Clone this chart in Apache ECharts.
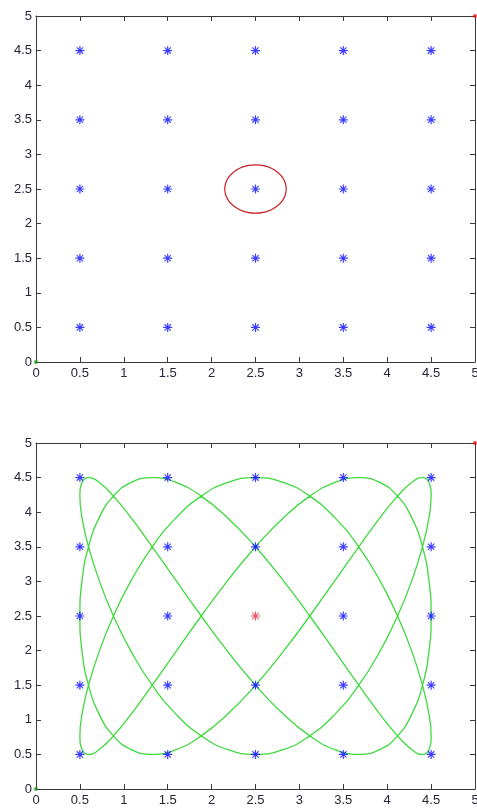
<!DOCTYPE html>
<html>
<head>
<meta charset="utf-8">
<script src="https://cdn.jsdelivr.net/npm/echarts@6/dist/echarts.min.js"></script>
<style>
  html, body { margin: 0; padding: 0; background: #fff; }
  #chart { width: 477px; height: 810px; }
</style>
</head>
<body>
<div id="chart"></div>
<script>
// Target grid (5 x 5 points)
const gridX = [0.5, 1.5, 2.5, 3.5, 4.5];
const gridY = [0.5, 1.5, 2.5, 3.5, 4.5];
// Centre target (highlighted in the lower panel)
const centre = [2.5, 2.5];
// Start / end corner markers
const startPt = [0, 0];
const endPt = [5, 5];

// Sensing range around the centre target
const ringX = [2.85, 2.838, 2.803, 2.747, 2.675, 2.591, 2.5, 2.409, 2.325, 2.253, 2.197, 2.162, 2.15,
               2.162, 2.197, 2.253, 2.325, 2.409, 2.5, 2.591, 2.675, 2.747, 2.803, 2.838, 2.85];
const ringY = [2.5, 2.591, 2.675, 2.747, 2.803, 2.838, 2.85, 2.838, 2.803, 2.747, 2.675, 2.591, 2.5,
               2.409, 2.325, 2.253, 2.197, 2.162, 2.15, 2.162, 2.197, 2.253, 2.325, 2.409, 2.5];

// Sweep trajectory
const pathX = [
  3.118, 3.408, 3.676, 3.914, 4.118, 4.282, 4.402, 4.475, 4.5, 4.475,
  4.402, 4.282, 4.118, 3.914, 3.676, 3.408, 3.118, 2.813, 2.5, 2.187,
  1.882, 1.592, 1.324, 1.086, 0.882, 0.718, 0.598, 0.525, 0.5, 0.525,
  0.598, 0.718, 0.882, 1.086, 1.324, 1.592, 1.882, 2.187, 2.5, 2.813,
  3.118, 3.408, 3.676, 3.914, 4.118, 4.282, 4.402, 4.475, 4.5, 4.475,
  4.402, 4.282, 4.118, 3.914, 3.676, 3.408, 3.118, 2.813, 2.5, 2.187,
  1.882, 1.592, 1.324, 1.086, 0.882, 0.718, 0.598, 0.525, 0.5, 0.525,
  0.598, 0.718, 0.882, 1.086, 1.324, 1.592, 1.882, 2.187, 2.5, 2.813,
  3.118, 3.408, 3.676, 3.914, 4.118, 4.282, 4.402, 4.475, 4.5, 4.475,
  4.402, 4.282, 4.118, 3.914, 3.676, 3.408, 3.118, 2.813, 2.5, 2.187,
  1.882, 1.592, 1.324, 1.086, 0.882, 0.718, 0.598, 0.525, 0.5, 0.525,
  0.598, 0.718, 0.882, 1.086, 1.324, 1.592, 1.882, 2.187, 2.5, 2.813,
  3.118
];
const pathY = [
  2.5, 3.018, 3.5, 3.914, 4.232, 4.432, 4.5, 4.432, 4.232, 3.914,
  3.5, 3.018, 2.5, 1.982, 1.5, 1.086, 0.768, 0.568, 0.5, 0.568,
  0.768, 1.086, 1.5, 1.982, 2.5, 3.018, 3.5, 3.914, 4.232, 4.432,
  4.5, 4.432, 4.232, 3.914, 3.5, 3.018, 2.5, 1.982, 1.5, 1.086,
  0.768, 0.568, 0.5, 0.568, 0.768, 1.086, 1.5, 1.982, 2.5, 3.018,
  3.5, 3.914, 4.232, 4.432, 4.5, 4.432, 4.232, 3.914, 3.5, 3.018,
  2.5, 1.982, 1.5, 1.086, 0.768, 0.568, 0.5, 0.568, 0.768, 1.086,
  1.5, 1.982, 2.5, 3.018, 3.5, 3.914, 4.232, 4.432, 4.5, 4.432,
  4.232, 3.914, 3.5, 3.018, 2.5, 1.982, 1.5, 1.086, 0.768, 0.568,
  0.5, 0.568, 0.768, 1.086, 1.5, 1.982, 2.5, 3.018, 3.5, 3.914,
  4.232, 4.432, 4.5, 4.432, 4.232, 3.914, 3.5, 3.018, 2.5, 1.982,
  1.5, 1.086, 0.768, 0.568, 0.5, 0.568, 0.768, 1.086, 1.5, 1.982,
  2.5
];

const axisMin = 0, axisMax = 5, axisStep = 0.5;

// Asterisk marker built from four thin bars
const asterisk = 'path://M-0.65,-5L0.65,-5L0.65,5L-0.65,5Z' +
  'M-5,-0.65L5,-0.65L5,0.65L-5,0.65Z' +
  'M-3.08,-3.92L3.92,3.08L3.08,3.92L-3.92,-3.08Z' +
  'M3.08,-3.92L3.92,-3.08L-3.08,3.92L-3.92,3.08Z';

const lineColor = '#3a3a3a';
const labelColor = '#262636';
const fontFamily = 'Liberation Sans, Arial, sans-serif';

function makeXAxis(gridIndex, pos) {
  const main = pos === 'bottom';
  return {
    type: 'value', gridIndex, position: pos,
    min: axisMin, max: axisMax, interval: axisStep,
    axisLine: { show: true, onZero: false, lineStyle: { color: lineColor, width: 1 } },
    axisTick: { show: true, inside: true, length: 5, lineStyle: { color: lineColor, width: 1 } },
    axisLabel: { show: main, margin: 5, color: labelColor, fontSize: 13, fontFamily,
                 showMinLabel: true, showMaxLabel: true },
    splitLine: { show: false }
  };
}
function makeYAxis(gridIndex, pos) {
  const main = pos === 'left';
  return {
    type: 'value', gridIndex, position: pos,
    min: axisMin, max: axisMax, interval: axisStep,
    axisLine: { show: true, onZero: false, lineStyle: { color: lineColor, width: 1 } },
    axisTick: { show: true, inside: true, length: 5, lineStyle: { color: lineColor, width: 1 } },
    axisLabel: { show: main, margin: 4, color: labelColor, fontSize: 13, fontFamily,
                 showMinLabel: true, showMaxLabel: true },
    splitLine: { show: false }
  };
}

// Grid targets
const allTargets = [];
const outerTargets = [];
gridY.forEach(y => gridX.forEach(x => {
  allTargets.push([x, y]);
  if (!(x === centre[0] && y === centre[1])) outerTargets.push([x, y]);
}));

const ring = ringX.map((x, i) => [x, ringY[i]]);
const path = pathX.map((x, i) => [x, pathY[i]]);

function cornerSeries(xi, yi) {
  return [
    { type: 'scatter', xAxisIndex: xi, yAxisIndex: yi, data: [startPt], symbol: 'circle',
      symbolSize: 4, itemStyle: { color: '#1a9a1a' }, clip: false, z: 10, silent: true },
    { type: 'scatter', xAxisIndex: xi, yAxisIndex: yi, data: [endPt], symbol: 'circle',
      symbolSize: 4, itemStyle: { color: '#ee1111' }, clip: false, z: 10, silent: true }
  ];
}

const chart = echarts.init(document.getElementById('chart'), null, { renderer: 'canvas' });
chart.setOption({
  animation: false,
  backgroundColor: '#ffffff',
  grid: [
    { left: 36, top: 16, width: 439, height: 346, outerBoundsMode: 'none', containLabel: false },
    { left: 36, top: 443, width: 439, height: 346, outerBoundsMode: 'none', containLabel: false }
  ],
  xAxis: [makeXAxis(0, 'bottom'), makeXAxis(0, 'top'), makeXAxis(1, 'bottom'), makeXAxis(1, 'top')],
  yAxis: [makeYAxis(0, 'left'), makeYAxis(0, 'right'), makeYAxis(1, 'left'), makeYAxis(1, 'right')],
  series: [
    // Upper panel
    { type: 'line', xAxisIndex: 0, yAxisIndex: 0, data: ring, smooth: true, showSymbol: false,
      lineStyle: { color: '#c82020', width: 1.2 }, z: 3, silent: true },
    { type: 'scatter', xAxisIndex: 0, yAxisIndex: 0, data: allTargets, symbol: asterisk,
      symbolSize: 9, itemStyle: { color: '#0a0aff' }, z: 5, silent: true },
    ...cornerSeries(0, 0),
    // Lower panel
    { type: 'line', xAxisIndex: 2, yAxisIndex: 2, data: path, smooth: true, showSymbol: false,
      lineStyle: { color: '#3fd93f', width: 1.3 }, z: 3, silent: true },
    { type: 'scatter', xAxisIndex: 2, yAxisIndex: 2, data: outerTargets, symbol: asterisk,
      symbolSize: 9, itemStyle: { color: '#0a0aff' }, z: 5, silent: true },
    { type: 'scatter', xAxisIndex: 2, yAxisIndex: 2, data: [centre], symbol: asterisk,
      symbolSize: 9, itemStyle: { color: '#e0304a' }, z: 5, silent: true },
    ...cornerSeries(2, 2)
  ]
});
</script>
</body>
</html>
